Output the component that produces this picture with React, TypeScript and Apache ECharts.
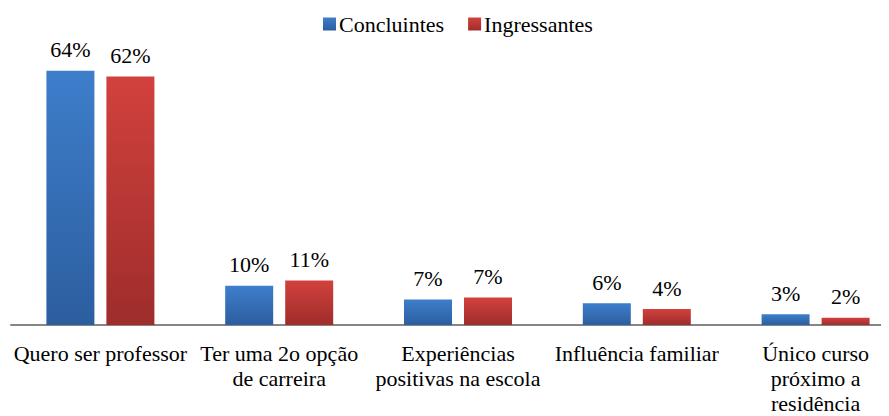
import React, { useEffect, useRef } from "react";
import * as echarts from "echarts";

const categories = [
  "Quero ser professor",
  "Ter uma 2o opção\nde carreira",
  "Experiências\npositivas na escola",
  "Influência familiar",
  "Único curso\npróximo a\nresidência",
];
const concluintes = [64.0, 9.9, 6.4, 5.5, 2.7];
const ingressantes = [62.6, 11.2, 6.9, 4.0, 1.8];
const concluintesLabels = ["64%", "10%", "7%", "6%", "3%"];
const ingressantesLabels = ["62%", "11%", "7%", "4%", "2%"];

const FONT = "serif";

export default function App() {
  const ref = useRef<HTMLDivElement>(null);
  useEffect(() => {
    if (!ref.current) return;
    const chart = echarts.init(ref.current, undefined, { renderer: "svg" });
    const blueGrad = new echarts.graphic.LinearGradient(0, 0, 0, 1, [
      { offset: 0, color: "#3e7ecb" },
      { offset: 1, color: "#2c5e9f" },
    ]);
    const redGrad = new echarts.graphic.LinearGradient(0, 0, 0, 1, [
      { offset: 0, color: "#d2413d" },
      { offset: 1, color: "#9e2d2b" },
    ]);
    const labelStyle = (labels: string[]) => ({
      show: true,
      position: "top",
      distance: 10,
      fontFamily: FONT,
      fontSize: 22,
      color: "#000000",
      formatter: (p: any) => labels[p.dataIndex],
    });
    chart.setOption({
      animation: false,
      textStyle: { fontFamily: FONT },
      legend: {
        top: 8,
        left: 318,
        itemWidth: 13,
        itemHeight: 13,
        itemGap: 24,
        icon: "rect",
        textStyle: { fontFamily: FONT, fontSize: 22, color: "#000000", padding: [0, 0, 0, -2] },
        data: ["Concluintes", "Ingressantes"],
      },
      grid: { left: 11, right: 0, top: 47, bottom: 87 },
      xAxis: {
        type: "category",
        data: categories,
        axisTick: { show: false },
        axisLine: { lineStyle: { color: "#868686", width: 2 } },
        axisLabel: {
          interval: 0,
          margin: 16,
          fontFamily: FONT,
          fontSize: 22,
          lineHeight: 25,
          color: "#000000",
        },
      },
      yAxis: {
        type: "value",
        min: 0,
        max: 70,
        show: false,
        splitLine: { show: false },
      },
      series: [
        {
          name: "Concluintes",
          type: "bar",
          data: concluintes,
          barWidth: 48,
          barGap: "25%",
          itemStyle: { color: blueGrad },
          label: labelStyle(concluintesLabels),
        },
        {
          name: "Ingressantes",
          type: "bar",
          data: ingressantes,
          barWidth: 48,
          barGap: "25%",
          itemStyle: { color: redGrad },
          label: labelStyle(ingressantesLabels),
        },
      ],
    });
    return () => chart.dispose();
  }, []);
  return (
    <div style={{ width: 889, height: 416, overflow: "hidden", margin: "-8px 0 0 -8px" }}>
      <div ref={ref} style={{ width: 905, height: 416 }} />
    </div>
  );
}
